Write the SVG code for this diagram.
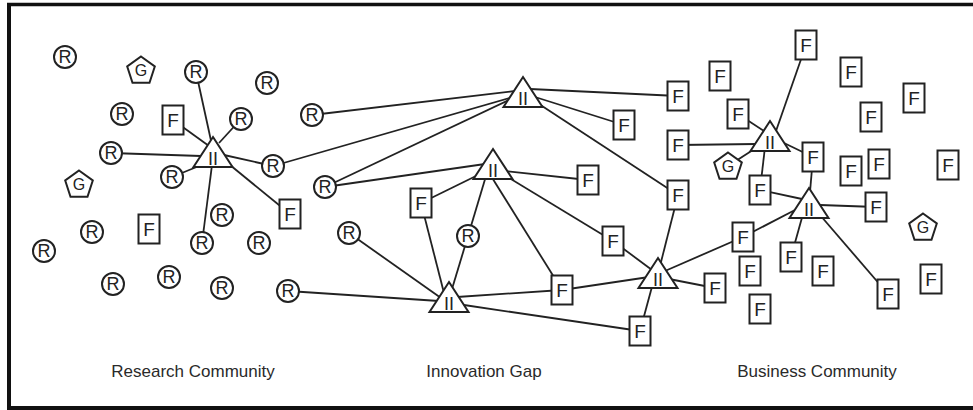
<svg xmlns="http://www.w3.org/2000/svg" width="973" height="410" viewBox="0 0 973 410">
  <style>
    .frame { fill: none; stroke: #111; }
    .edge { stroke: #222; stroke-width: 1.8; fill: none; }
    .node use { fill: #fff; stroke: #222; stroke-width: 2; }
    .node text { font-family: "Liberation Sans", Arial, sans-serif; fill: #222; text-anchor: middle; }
    .r text { font-size: 18px; }
    .f text { font-size: 19px; }
    .g text { font-size: 16px; }
    .t text { font-size: 18px; }
    .label { font-family: "Liberation Sans", Arial, sans-serif; font-size: 17px; fill: #2a2a2a; text-anchor: middle; }
  </style>
  <defs>
    <circle id="circ" r="11"/>
    <rect id="box" x="-10.5" y="-14.5" width="21" height="29"/>
    <polygon id="pent" points="0,-13.5 13.8,-3.5 8.5,12.7 -8.5,12.7 -13.8,-3.5"/>
    <polygon id="tri" points="0,0 19.5,30 -19.5,30"/>
  </defs>

  <rect width="973" height="410" fill="#fff"/>

  <!-- border (open on the right) -->
  <g class="frame">
    <path d="M7,4.5 H973" stroke-width="3.5"/>
    <path d="M9,3 V410" stroke-width="4"/>
    <path d="M7,408 H973" stroke-width="4"/>
  </g>

  <!-- connectors -->
  <g id="connectors" class="edge">
    <!-- hub A -->
    <line x1="196" y1="72" x2="211.5" y2="143"/>
    <line x1="173" y1="120" x2="209" y2="146"/>
    <line x1="241" y1="119" x2="219" y2="143"/>
    <line x1="111" y1="153" x2="201" y2="156"/>
    <line x1="172" y1="177" x2="199" y2="166"/>
    <line x1="273" y1="166" x2="224" y2="155"/>
    <line x1="290" y1="214" x2="230" y2="165"/>
    <line x1="202" y1="243" x2="212" y2="165"/>
    <!-- hub B -->
    <line x1="312" y1="115" x2="515" y2="91"/>
    <line x1="273" y1="166" x2="513" y2="97"/>
    <line x1="325" y1="187" x2="513" y2="98"/>
    <line x1="678" y1="96" x2="530" y2="89"/>
    <line x1="624" y1="125" x2="535" y2="97"/>
    <line x1="678" y1="195" x2="539" y2="104"/>
    <!-- hub C -->
    <line x1="325" y1="187" x2="485" y2="164"/>
    <line x1="588" y1="180" x2="504" y2="171"/>
    <line x1="421" y1="203" x2="476" y2="176"/>
    <line x1="468" y1="236" x2="486" y2="176"/>
    <line x1="562" y1="290" x2="491" y2="176"/>
    <line x1="613" y1="241" x2="506" y2="176"/>
    <!-- hub E -->
    <line x1="288" y1="291" x2="439" y2="301"/>
    <line x1="349" y1="233" x2="441" y2="298"/>
    <line x1="421" y1="203" x2="444" y2="293"/>
    <line x1="468" y1="236" x2="452" y2="289"/>
    <line x1="562" y1="290" x2="457" y2="297"/>
    <line x1="640" y1="331" x2="464" y2="305"/>
    <!-- hub D -->
    <line x1="613" y1="241" x2="652" y2="270"/>
    <line x1="562" y1="290" x2="649" y2="277"/>
    <line x1="678" y1="195" x2="660" y2="266"/>
    <line x1="640" y1="331" x2="653" y2="283"/>
    <line x1="715" y1="288" x2="669" y2="279"/>
    <line x1="743" y1="237" x2="665" y2="271"/>
    <!-- hub F -->
    <line x1="806" y1="45" x2="776" y2="131"/>
    <line x1="738" y1="114" x2="764" y2="131"/>
    <line x1="678" y1="145" x2="756" y2="144"/>
    <line x1="728" y1="166" x2="756" y2="148"/>
    <line x1="760" y1="190" x2="765" y2="147"/>
    <line x1="813" y1="157" x2="784" y2="143"/>
    <!-- hub G -->
    <line x1="813" y1="157" x2="810" y2="192"/>
    <line x1="760" y1="190" x2="802" y2="199"/>
    <line x1="876" y1="207" x2="820" y2="205"/>
    <line x1="791" y1="257" x2="803" y2="214"/>
    <line x1="888" y1="294" x2="820" y2="215"/>
    <line x1="743" y1="237" x2="795" y2="210"/>
  </g>

  <!-- intermediary hubs -->
  <g id="hubA" class="node t" transform="translate(213,137)"><use href="#tri"/><text y="28">II</text></g>
  <g id="hubB" class="node t" transform="translate(523,77)"><use href="#tri"/><text y="28">II</text></g>
  <g id="hubC" class="node t" transform="translate(493,149)"><use href="#tri"/><text y="28">II</text></g>
  <g id="hubD" class="node t" transform="translate(658,258)"><use href="#tri"/><text y="28">II</text></g>
  <g id="hubE" class="node t" transform="translate(449,282)"><use href="#tri"/><text y="28">II</text></g>
  <g id="hubF" class="node t" transform="translate(770,121)"><use href="#tri"/><text y="28">II</text></g>
  <g id="hubG" class="node t" transform="translate(809,188)"><use href="#tri"/><text y="28">II</text></g>

  <!-- researchers -->
  <g id="r1" class="node r" transform="translate(65,57)"><use href="#circ"/><text y="6.4">R</text></g>
  <g id="r2" class="node r" transform="translate(196,72)"><use href="#circ"/><text y="6.4">R</text></g>
  <g id="r3" class="node r" transform="translate(267,83)"><use href="#circ"/><text y="6.4">R</text></g>
  <g id="r4" class="node r" transform="translate(122,114)"><use href="#circ"/><text y="6.4">R</text></g>
  <g id="r5" class="node r" transform="translate(241,119)"><use href="#circ"/><text y="6.4">R</text></g>
  <g id="r6" class="node r" transform="translate(312,115)"><use href="#circ"/><text y="6.4">R</text></g>
  <g id="r7" class="node r" transform="translate(111,153)"><use href="#circ"/><text y="6.4">R</text></g>
  <g id="r8" class="node r" transform="translate(273,166)"><use href="#circ"/><text y="6.4">R</text></g>
  <g id="r9" class="node r" transform="translate(172,177)"><use href="#circ"/><text y="6.4">R</text></g>
  <g id="r10" class="node r" transform="translate(222,215)"><use href="#circ"/><text y="6.4">R</text></g>
  <g id="r11" class="node r" transform="translate(92,232)"><use href="#circ"/><text y="6.4">R</text></g>
  <g id="r12" class="node r" transform="translate(202,243)"><use href="#circ"/><text y="6.4">R</text></g>
  <g id="r13" class="node r" transform="translate(259,243)"><use href="#circ"/><text y="6.4">R</text></g>
  <g id="r14" class="node r" transform="translate(44,251)"><use href="#circ"/><text y="6.4">R</text></g>
  <g id="r15" class="node r" transform="translate(169,277)"><use href="#circ"/><text y="6.4">R</text></g>
  <g id="r16" class="node r" transform="translate(113,284)"><use href="#circ"/><text y="6.4">R</text></g>
  <g id="r17" class="node r" transform="translate(222,288)"><use href="#circ"/><text y="6.4">R</text></g>
  <g id="r18" class="node r" transform="translate(288,291)"><use href="#circ"/><text y="6.4">R</text></g>
  <g id="r19" class="node r" transform="translate(325,187)"><use href="#circ"/><text y="6.4">R</text></g>
  <g id="r20" class="node r" transform="translate(349,233)"><use href="#circ"/><text y="6.4">R</text></g>
  <g id="r21" class="node r" transform="translate(468,236)"><use href="#circ"/><text y="6.4">R</text></g>

  <!-- government -->
  <g id="g1" class="node g" transform="translate(141,70)"><use href="#pent"/><text y="6">G</text></g>
  <g id="g2" class="node g" transform="translate(79,184)"><use href="#pent"/><text y="6">G</text></g>
  <g id="g3" class="node g" transform="translate(728,166)"><use href="#pent"/><text y="6">G</text></g>
  <g id="g4" class="node g" transform="translate(923,227)"><use href="#pent"/><text y="6">G</text></g>

  <!-- firms -->
  <g id="f1" class="node f" transform="translate(173,120)"><use href="#box"/><text y="6.8">F</text></g>
  <g id="f2" class="node f" transform="translate(290,214)"><use href="#box"/><text y="6.8">F</text></g>
  <g id="f3" class="node f" transform="translate(149,229)"><use href="#box"/><text y="6.8">F</text></g>
  <g id="f4" class="node f" transform="translate(421,203)"><use href="#box"/><text y="6.8">F</text></g>
  <g id="f5" class="node f" transform="translate(624,125)"><use href="#box"/><text y="6.8">F</text></g>
  <g id="f6" class="node f" transform="translate(588,180)"><use href="#box"/><text y="6.8">F</text></g>
  <g id="f7" class="node f" transform="translate(613,241)"><use href="#box"/><text y="6.8">F</text></g>
  <g id="f8" class="node f" transform="translate(562,290)"><use href="#box"/><text y="6.8">F</text></g>
  <g id="f9" class="node f" transform="translate(640,331)"><use href="#box"/><text y="6.8">F</text></g>
  <g id="f10" class="node f" transform="translate(806,45)"><use href="#box"/><text y="6.8">F</text></g>
  <g id="f11" class="node f" transform="translate(720,76)"><use href="#box"/><text y="6.8">F</text></g>
  <g id="f12" class="node f" transform="translate(851,72)"><use href="#box"/><text y="6.8">F</text></g>
  <g id="f13" class="node f" transform="translate(678,96)"><use href="#box"/><text y="6.8">F</text></g>
  <g id="f14" class="node f" transform="translate(914,98)"><use href="#box"/><text y="6.8">F</text></g>
  <g id="f15" class="node f" transform="translate(738,114)"><use href="#box"/><text y="6.8">F</text></g>
  <g id="f16" class="node f" transform="translate(871,117)"><use href="#box"/><text y="6.8">F</text></g>
  <g id="f17" class="node f" transform="translate(678,145)"><use href="#box"/><text y="6.8">F</text></g>
  <g id="f18" class="node f" transform="translate(813,157)"><use href="#box"/><text y="6.8">F</text></g>
  <g id="f19" class="node f" transform="translate(851,171)"><use href="#box"/><text y="6.8">F</text></g>
  <g id="f20" class="node f" transform="translate(879,164)"><use href="#box"/><text y="6.8">F</text></g>
  <g id="f21" class="node f" transform="translate(948,165)"><use href="#box"/><text y="6.8">F</text></g>
  <g id="f22" class="node f" transform="translate(760,190)"><use href="#box"/><text y="6.8">F</text></g>
  <g id="f23" class="node f" transform="translate(678,195)"><use href="#box"/><text y="6.8">F</text></g>
  <g id="f24" class="node f" transform="translate(876,207)"><use href="#box"/><text y="6.8">F</text></g>
  <g id="f25" class="node f" transform="translate(743,237)"><use href="#box"/><text y="6.8">F</text></g>
  <g id="f26" class="node f" transform="translate(791,257)"><use href="#box"/><text y="6.8">F</text></g>
  <g id="f27" class="node f" transform="translate(750,271)"><use href="#box"/><text y="6.8">F</text></g>
  <g id="f28" class="node f" transform="translate(823,271)"><use href="#box"/><text y="6.8">F</text></g>
  <g id="f29" class="node f" transform="translate(931,279)"><use href="#box"/><text y="6.8">F</text></g>
  <g id="f30" class="node f" transform="translate(888,294)"><use href="#box"/><text y="6.8">F</text></g>
  <g id="f31" class="node f" transform="translate(715,288)"><use href="#box"/><text y="6.8">F</text></g>
  <g id="f32" class="node f" transform="translate(760,309)"><use href="#box"/><text y="6.8">F</text></g>

  <!-- region captions -->
  <g id="captions">
    <text class="label" x="193" y="377">Research Community</text>
    <text class="label" x="484" y="377">Innovation Gap</text>
    <text class="label" x="817" y="377">Business Community</text>
  </g>
</svg>
